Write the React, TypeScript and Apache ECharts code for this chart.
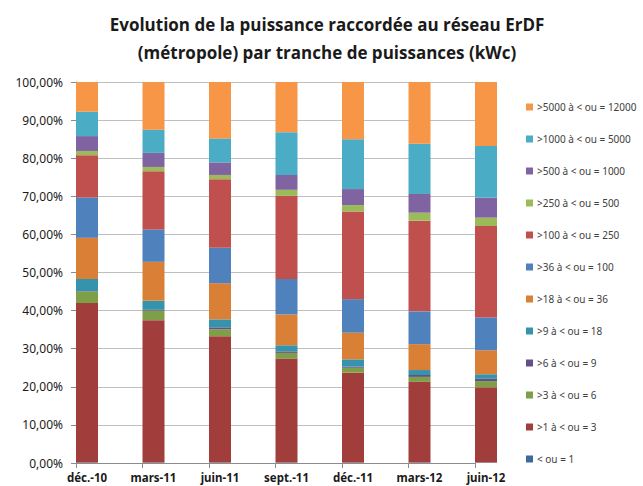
import React, { useEffect, useRef } from "react";
import * as echarts from "echarts";

const categories = ["déc.-10", "mars-11", "juin-11", "sept.-11", "déc.-11", "mars-12", "juin-12"];

const seriesNames = [
  "< ou = 1",
  ">1 à < ou = 3",
  ">3 à < ou = 6",
  ">6 à < ou = 9",
  ">9 à < ou = 18",
  ">18 à < ou = 36",
  ">36 à < ou = 100",
  ">100 à < ou = 250",
  ">250 à < ou = 500",
  ">500 à < ou = 1000",
  ">1000 à < ou = 5000",
  ">5000 à < ou = 12000",
];

const sLe1 = [0.1, 0.1, 0.1, 0.1, 0.1, 0.1, 0.1];
const s1to3 = [41.9, 37.4, 33.2, 27.3, 23.6, 21.2, 19.8];
const s3to6 = [3.0, 2.5, 1.8, 1.5, 1.3, 1.3, 1.6];
const s6to9 = [0.1, 0.2, 0.5, 0.4, 0.3, 0.5, 0.6];
const s9to18 = [3.2, 2.4, 2.1, 1.6, 1.9, 1.3, 1.2];
const s18to36 = [10.8, 10.2, 9.5, 8.1, 7.0, 6.8, 6.3];
const s36to100 = [10.6, 8.5, 9.3, 9.3, 8.8, 8.6, 8.6];
const s100to250 = [11.1, 15.3, 18.0, 21.8, 23.0, 23.8, 24.0];
const s250to500 = [1.1, 1.1, 1.1, 1.6, 1.7, 2.1, 2.2];
const s500to1000 = [3.9, 3.7, 3.3, 3.9, 4.2, 4.9, 5.2];
const s1000to5000 = [6.4, 6.1, 6.3, 11.2, 13.1, 13.2, 13.6];
const s5000to12000 = [7.8, 12.5, 14.8, 13.2, 15.0, 16.2, 16.8];

const seriesValues = [
  sLe1, s1to3, s3to6, s6to9, s9to18, s18to36,
  s36to100, s100to250, s250to500, s500to1000, s1000to5000, s5000to12000,
];

const colors = [
  "#3D69A0", "#A13E3B", "#7F9E48", "#664F86", "#3594AB", "#D98036",
  "#4F81BD", "#C0504D", "#9BBB59", "#8064A2", "#4BACC6", "#F79646",
];

export default function App() {
  const ref = useRef<HTMLDivElement>(null);
  useEffect(() => {
    if (!ref.current) return;
    const chart = echarts.init(ref.current, undefined, { renderer: "svg" });
    const barSeries: any[] = seriesNames.map((name, i) => ({
      name,
      type: "bar",
      stack: "total",
      barWidth: 22,
      barGap: "0%",
      data: seriesValues[i],
      itemStyle: { color: colors[i] },
    }));
    const dummy = {
      name: "__spacer",
      type: "bar",
      stack: "spacer",
      barWidth: 22,
      barGap: "0%",
      data: categories.map(() => null),
      silent: true,
    };
    chart.setOption({
      animation: false,
      backgroundColor: "#ffffff",
      title: {
        text: "Evolution de la puissance raccordée au réseau ErDF\n(métropole) par tranche de puissances (kWc)",
        left: 322,
        top: 5,
        textAlign: "center",
        textStyle: {
          fontFamily: "'Open Sans', sans-serif",
          fontWeight: "bold",
          fontSize: 17,
          lineHeight: 28,
          color: "#1a1a1a",
        },
      },
      legend: {
        orient: "vertical",
        left: 521,
        top: 95,
        itemWidth: 7,
        itemHeight: 7,
        itemGap: 18,
        icon: "rect",
        data: [...seriesNames].reverse(),
        textStyle: {
          fontFamily: "'Noto Sans', sans-serif",
          fontSize: 10,
          lineHeight: 14,
          color: "#404040",
          padding: [0, 0, 0, -1],
        },
      },
      grid: { left: 76, top: 82, right: 168, bottom: 23 },
      xAxis: {
        type: "category",
        data: categories,
        boundaryGap: false,
        axisLine: { lineStyle: { color: "#8c8c8c" } },
        axisTick: { show: true, length: 5, lineStyle: { color: "#8c8c8c" } },
        axisLabel: {
          interval: 0,
          margin: 8,
          padding: [0, 0, 0, 22],
          fontFamily: "'Noto Sans', sans-serif",
          fontWeight: "bold",
          fontSize: 11.5,
          color: "#1a1a1a",
        },
        splitLine: { show: false },
      },
      yAxis: {
        type: "value",
        min: 0,
        max: 100,
        interval: 10,
        axisLine: { show: true, lineStyle: { color: "#8c8c8c" } },
        axisTick: { show: true, length: 5, lineStyle: { color: "#8c8c8c" } },
        axisLabel: {
          margin: 13,
          fontFamily: "'Noto Sans', sans-serif",
          fontSize: 12,
          color: "#1a1a1a",
          formatter: (v: number) => v.toFixed(2).replace(".", ",") + "%",
        },
        splitLine: { show: true, lineStyle: { color: "#bfbfbf" } },
      },
      series: [dummy, ...barSeries],
    });
    return () => chart.dispose();
  }, []);
  return (
    <div
      ref={ref}
      style={{ position: "fixed", left: 0, top: 0, width: 643, height: 486 }}
    />
  );
}
